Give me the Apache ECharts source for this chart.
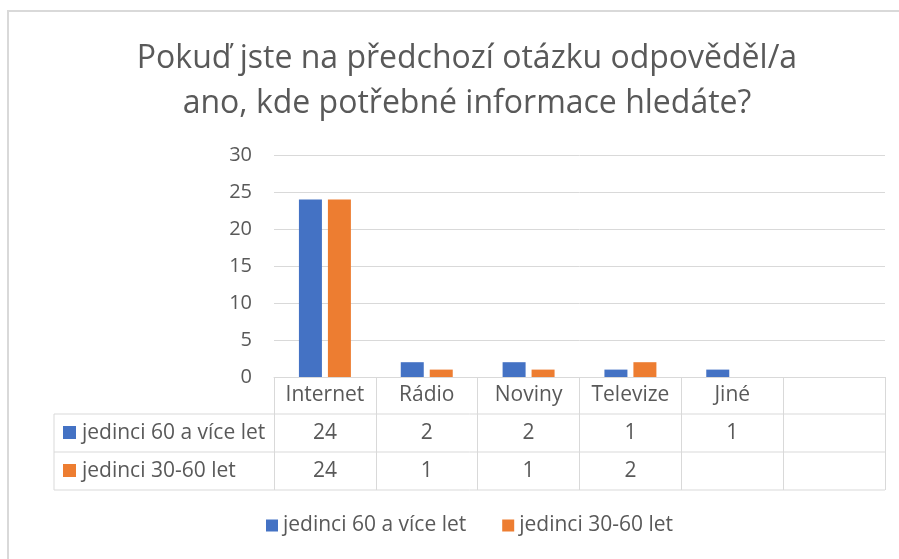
<!DOCTYPE html>
<html>
<head>
<meta charset="utf-8">
<script src="https://cdn.jsdelivr.net/npm/echarts@6/dist/echarts.min.js"></script>
<style>
  html, body { margin: 0; padding: 0; background: #fff; }
  #chart { width: 899px; height: 559px; }
</style>
</head>
<body>
<div id="chart"></div>
<script>
// data
const categories = ['Internet', 'Rádio', 'Noviny', 'Televize', 'Jiné', '']
const seriesNames = ['jedinci 60 a více let', 'jedinci 30-60 let']
const older = [24, 2, 2, 1, 1, null]
const middle = [24, 1, 1, 2, null, null]
const yTicks = [0, 5, 10, 15, 20, 25, 30]

const textColor = '#595959'
const lineColor = '#d9d9d9'
const colors = ['#4472C4', '#ED7D31']
const font = 'Open Sans'
const fs = 21

const chart = echarts.init(document.getElementById('chart'))

function cell(v) {
  return v == null ? '' : String(v)
}

chart.setOption({
  animation: false,
  textStyle: { fontFamily: font },
  title: {
    text: 'Pokuď jste na předchozí otázku odpověděl/a\nano, kde potřebné informace hledáte?',
    left: 462,
    top: 31,
    textAlign: 'center',
    textStyle: {
      color: textColor,
      fontFamily: font,
      fontWeight: 400,
      fontSize: 32,
      lineHeight: 45
    }
  },
  legend: {
    left: 261,
    top: 510,
    icon: 'rect',
    itemWidth: 12,
    itemHeight: 12,
    itemGap: 36,
    textStyle: { color: textColor, fontSize: fs, fontFamily: font },
    data: seriesNames
  },
  grid: {
    left: 274,
    right: 14,
    top: 155,
    bottom: 182
  },
  xAxis: {
    type: 'category',
    data: categories,
    axisLine: { lineStyle: { color: lineColor, width: 1 } },
    axisTick: { show: true, length: 113, lineStyle: { color: lineColor } },
    axisLabel: {
      interval: 0,
      margin: 0,
      formatter: function(value, idx) {
        return '{h|' + value + '}\n{v|' + cell(older[idx]) + '}\n{v|' + cell(middle[idx]) + '}'
      },
      rich: {
        h: { color: textColor, fontSize: fs, lineHeight: 37, fontFamily: font },
        v: { color: textColor, fontSize: fs, lineHeight: 38, fontFamily: font }
      }
    }
  },
  yAxis: {
    type: 'value',
    min: yTicks[0],
    max: yTicks[yTicks.length - 1],
    interval: yTicks[1] - yTicks[0],
    axisLabel: { color: textColor, fontSize: 20, margin: 22, fontFamily: font },
    splitLine: { lineStyle: { color: lineColor, width: 1 } }
  },
  series: [
    {
      name: seriesNames[0],
      type: 'bar',
      data: older,
      barWidth: 23,
      barGap: '26%',
      itemStyle: { color: colors[0] }
    },
    {
      name: seriesNames[1],
      type: 'bar',
      data: middle,
      barWidth: 23,
      itemStyle: { color: colors[1] }
    }
  ],
  graphic: [
    // outer chart border (left and top visible)
    { type: 'polyline', shape: { points: [[8, 600], [8, 11], [920, 11]] }, style: { stroke: lineColor, lineWidth: 2, fill: null } },
    // data table row lines
    { type: 'line', shape: { x1: 54, y1: 414, x2: 885, y2: 414 }, style: { stroke: lineColor, lineWidth: 1 } },
    { type: 'line', shape: { x1: 54, y1: 452, x2: 885, y2: 452 }, style: { stroke: lineColor, lineWidth: 1 } },
    { type: 'line', shape: { x1: 54, y1: 490, x2: 885, y2: 490 }, style: { stroke: lineColor, lineWidth: 1 } },
    { type: 'line', shape: { x1: 54, y1: 414, x2: 54, y2: 490 }, style: { stroke: lineColor, lineWidth: 1 } },
    // row headers
    { type: 'rect', shape: { x: 63, y: 426, width: 13, height: 13 }, style: { fill: colors[0] } },
    { type: 'text', x: 82, y: 433, style: { text: seriesNames[0], fill: textColor, fontSize: fs, fontFamily: font, verticalAlign: 'middle' } },
    { type: 'rect', shape: { x: 63, y: 464, width: 13, height: 13 }, style: { fill: colors[1] } },
    { type: 'text', x: 82, y: 471, style: { text: seriesNames[1], fill: textColor, fontSize: fs, fontFamily: font, verticalAlign: 'middle' } }
  ]
})
</script>
</body>
</html>
